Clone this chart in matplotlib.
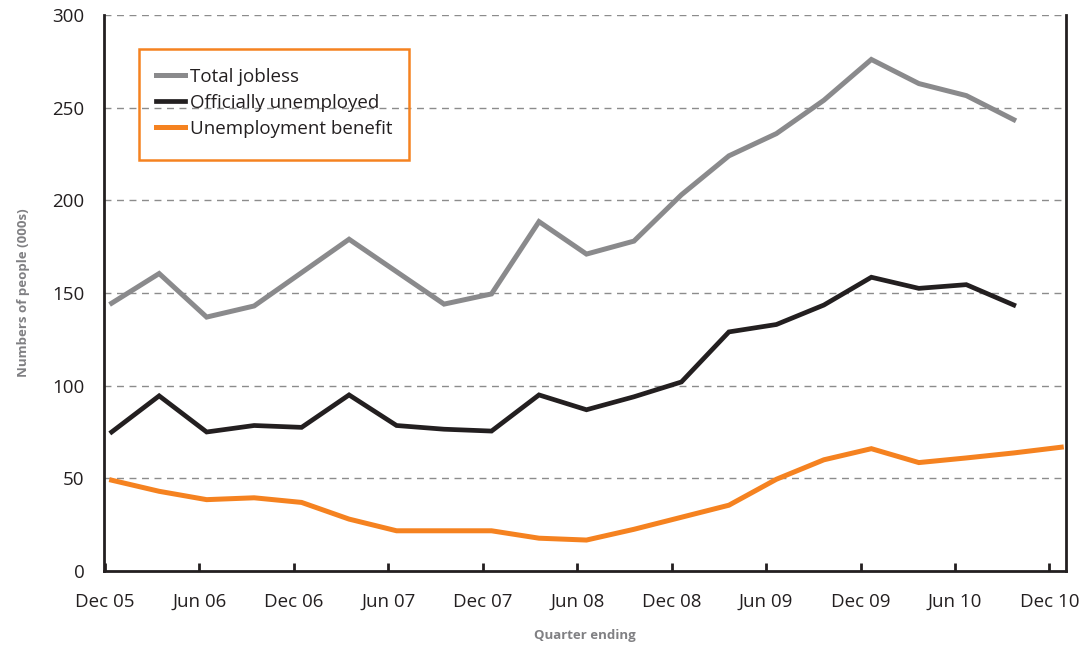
import numpy as np
import matplotlib.pyplot as plt
from matplotlib.patches import Rectangle

plt.rcParams['font.family'] = ['Open Sans', 'DejaVu Sans']

# Quarterly figures, Dec 05 onwards (thousands of people)
quarters = ['Dec 05', 'Mar 06', 'Jun 06', 'Sep 06', 'Dec 06', 'Mar 07', 'Jun 07',
            'Sep 07', 'Dec 07', 'Mar 08', 'Jun 08', 'Sep 08', 'Dec 08', 'Mar 09',
            'Jun 09', 'Sep 09', 'Dec 09', 'Mar 10', 'Jun 10', 'Sep 10', 'Dec 10']
total_jobless = [144.5, 160.5, 137, 143, 161, 179, 161.5, 144, 149.5, 188.5,
                 171, 178, 203, 224, 236, 254, 276, 263, 256.5, 243.5]
officially_unemployed = [75, 94.5, 75, 78.5, 77.5, 95, 78.5, 76.5, 75.5, 95,
                         87, 94, 102, 129, 133, 143.5, 158.5, 152.5, 154.5, 143.5]
unemployment_benefit = [49, 43, 38.5, 39.5, 37, 28, 21.7, 21.7, 21.7, 17.7, 16.7,
                        22.5, 29, 35.5, 49.5, 60, 66, 58.5, 61, 63.7, 66.8]
tick_labels = quarters[::2]

grey = '#8a8a8c'
black = '#231f20'
orange = '#f58220'

fig = plt.figure(figsize=(10.9, 6.46), dpi=100)
ax = fig.add_axes([0.0954, 0.1161, 0.8826, 0.8607])

ax.plot(range(len(total_jobless)), total_jobless, color=grey, lw=3.6,
        solid_joinstyle='miter', label='Total jobless', zorder=3)
ax.plot(range(len(officially_unemployed)), officially_unemployed, color=black, lw=3.4,
        solid_joinstyle='miter', label='Officially unemployed', zorder=3)
ax.plot(range(len(unemployment_benefit)), unemployment_benefit, color=orange, lw=3.6,
        solid_joinstyle='miter', label='Unemployment benefit', zorder=3)

ax.set_ylim(0, 300)
ax.set_xlim(-0.162, 20.1)
ax.set_yticks(range(0, 301, 50))
ax.set_xticks(np.linspace(-0.14, 19.75, len(tick_labels)))
ax.set_xticklabels(tick_labels)

# dashed horizontal grid
for y in range(50, 301, 50):
    ax.axhline(y, color='#8c8c8c', lw=1.0, ls=(0, (5, 4)), zorder=1)

ax.spines['top'].set_visible(False)
for side in ('left', 'bottom', 'right'):
    ax.spines[side].set_color(black)
    ax.spines[side].set_linewidth(2.0)

ax.tick_params(axis='x', direction='in', length=6, width=2, color=black,
               labelsize=13.5, labelcolor=black, pad=16)
ax.tick_params(axis='y', length=0, labelsize=13.5, labelcolor=black, pad=14)

ax.set_xlabel('Quarter ending', fontsize=9.5, fontweight='bold', color='#808083',
              labelpad=13)
ax.set_ylabel('Numbers of people (000s)', fontsize=9.5, fontweight='bold',
              color='#808083', labelpad=16)

# legend with its own orange frame
ax.add_patch(Rectangle((0.0364, 0.739), 0.2806, 0.2, transform=ax.transAxes,
                       fill=False, edgecolor=orange, lw=1.8, zorder=5))
ax.legend(loc='upper left', bbox_to_anchor=(0.054, 0.905), frameon=False,
          fontsize=13.5, handlelength=1.55, handletextpad=0.28, labelspacing=0.43,
          borderpad=0, borderaxespad=0, labelcolor=black)

fig.savefig('out.png', dpi=100)
